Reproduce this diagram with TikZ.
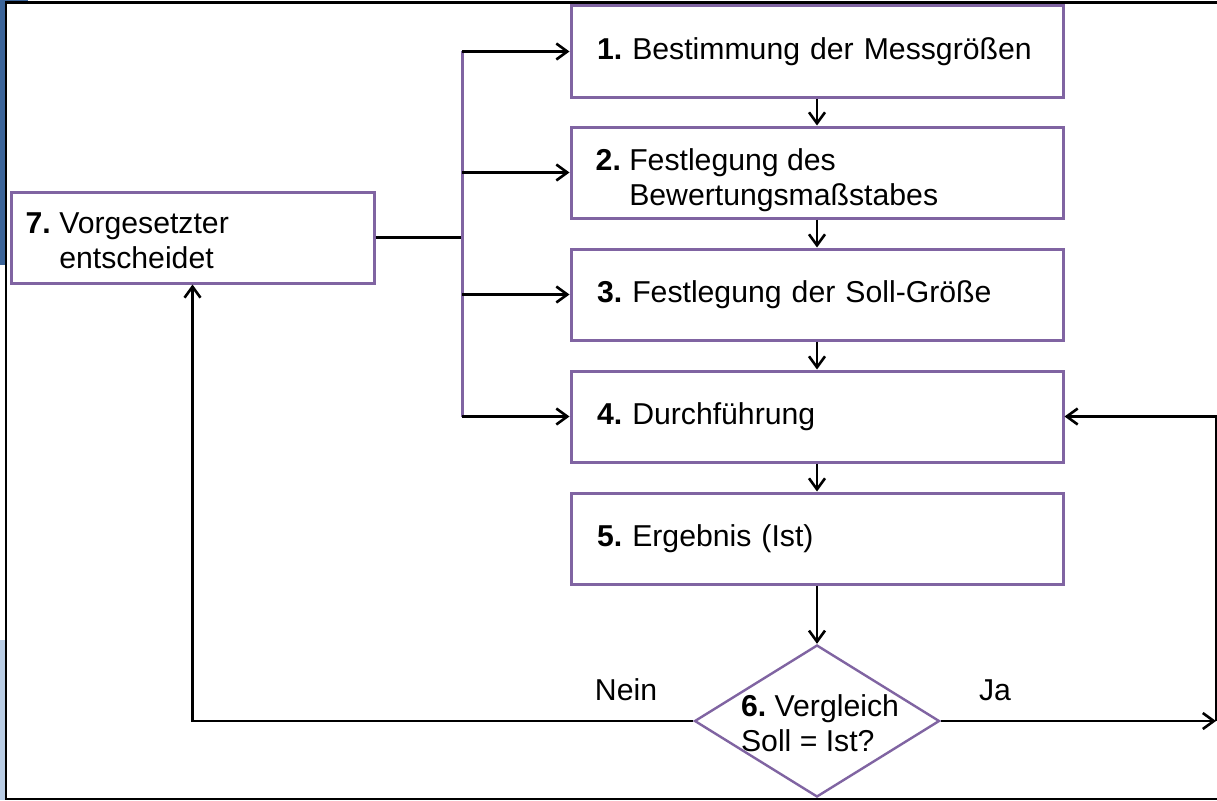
\documentclass[tikz,border=0pt]{standalone}
\usepackage{fontspec}
\setmainfont{Liberation Sans}
\usetikzlibrary{shapes.geometric,arrows.meta}
\definecolor{framepurple}{HTML}{8064A2}
\definecolor{slideblue}{HTML}{3B6499}
\definecolor{slidelight}{HTML}{B9CDE5}

\begin{document}
\begin{tikzpicture}[x=1pt,y=-1pt,
  every node/.style={font=\fontsize{30.2}{35}\selectfont},
  stepbox/.style={rectangle, draw=framepurple, line width=3pt, fill=white,
    minimum width=492pt, minimum height=91pt, text width=440pt,
    inner xsep=26pt, inner ysep=0pt, align=left},
  sidebox/.style={rectangle, draw=framepurple, line width=3pt, fill=white,
    minimum width=363pt, minimum height=91pt, text width=331pt,
    inner xsep=16pt, inner ysep=0pt, align=left},
  decision/.style={diamond, draw=framepurple, line width=2.4pt, fill=white,
    minimum width=245pt, minimum height=152pt, inner sep=0pt},
  conn/.style={draw=black, line width=2.6pt},
  arr/.style={conn, -{Straight Barb[length=11pt,width=16pt]}},
  bus/.style={draw=framepurple, line width=3pt},
]
\useasboundingbox (0,0) rectangle (1217,800);

% slide background around the frame
\fill[white] (0,0) rectangle (1217,800);
\fill[slideblue] (0,0) rectangle (5,265);
\fill[slideblue] (0,0) rectangle (28,1.5);
\fill[slidelight] (0,640) rectangle (5,800);
\draw[line width=2.8pt] (1217,2.5) -- (6,2.5) -- (6,799) -- (1217,799);

% process steps
\node[stepbox] (b1) at (817,51.5) {\textbf{1.}~Bestimmung der Messgrößen};
\node[stepbox] (b2) at (817,172.5) {};
\node[anchor=west, align=left, inner sep=0pt] (t2) at ([xshift=26pt,yshift=-8pt]b2.west)
  {\textbf{2.}~Festlegung des\\\hphantom{\textbf{2.}~}Bewertungsmaßstabes};
\node[stepbox] (b3) at (817,294.5) {\textbf{3.}~Festlegung der Soll-Größe};
\node[stepbox] (b4) at (817,416.5) {\textbf{4.}~Durchführung};
\node[stepbox] (b5) at (817,538.5) {\textbf{5.}~Ergebnis (Ist)};
\node[sidebox] (b7) at (192.5,237.5) {};
\node[anchor=west, align=left, inner sep=0pt] (t7) at ([xshift=16pt,yshift=-3pt]b7.west)
  {\textbf{7.}~Vorgesetzter\\\hphantom{\textbf{7.}~}entscheidet};
\node[decision] (d6) at (817,721) {};
\node[align=left, inner sep=0pt] (t6) at (820,723) {\textbf{6.}~Vergleich\\Soll = Ist?};

% labels of the two outcomes
\node (nein) at (626,690) {Nein};
\node (ja) at (995,690) {Ja};

% downward flow
\draw[arr] (b1.south) -- (b2.north);
\draw[arr] (b2.south) -- (b3.north);
\draw[arr] (b3.south) -- (b4.north);
\draw[arr] (b4.south) -- (b5.north);
\draw[arr] (b5.south) -- (d6.north);

% distribution bus from step 7
\coordinate (bt) at (462,51.5);
\coordinate (bb) at (462,416.5);
\draw[conn] (b7.east) -- (b7.east -| bt);
\draw[bus] (bt) -- (bb);
\draw[arr] (bt) -- (b1.west);
\draw[arr] (bt |- b2.west) -- (b2.west);
\draw[arr] (bt |- b3.west) -- (b3.west);
\draw[arr] (bb) -- (b4.west);

% "Nein" branch back to step 7
\draw[arr] (d6.west) -| (b7.south);

% "Ja" branch back to step 4
\coordinate (jr) at (1216,721);
\draw[arr] (d6.east) -- (jr);
\draw[arr] (jr) |- (b4.east);
\end{tikzpicture}
\end{document}
